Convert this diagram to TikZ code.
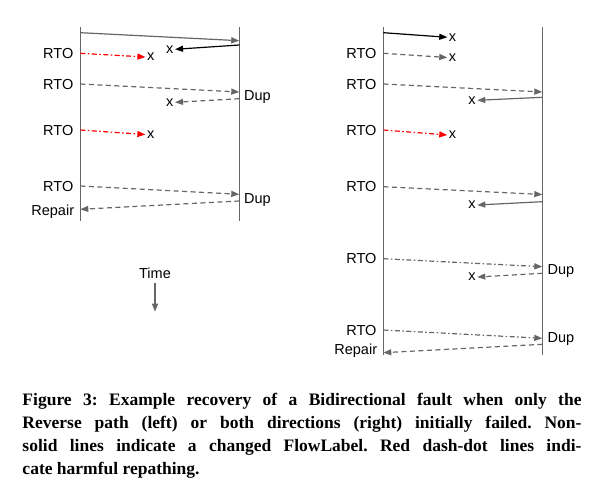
\documentclass[tikz,border=0pt]{standalone}
\usepackage{fontspec}
\setmainfont{Liberation Serif}
\newfontfamily\diagfont{Liberation Sans}
\usetikzlibrary{arrows.meta}
\definecolor{lg}{HTML}{666666}
\definecolor{rd}{HTML}{FF0000}
\frenchspacing
\begin{document}
\begin{tikzpicture}[x=1bp,y=-1bp,
  lbl/.style={font=\diagfont\fontsize{14.5bp}{16bp}\selectfont, inner sep=0pt, text height=10.4bp, text depth=0pt},
  xl/.style={font=\diagfont\fontsize{14.5bp}{16bp}\selectfont, inner xsep=1.5bp, inner ysep=0pt, text height=7.5bp, text depth=0pt},
  vline/.style={draw=lg, line width=1.3bp},
  msg/.style={draw=lg, line width=1.2bp, -{Triangle[length=8bp,width=6bp]}},
  blk/.style={msg, draw=black},
  dsh/.style={msg, dash pattern=on 5bp off 3.5bp},
  dd/.style={msg, dash pattern=on 5bp off 2.5bp on 1.5bp off 2.5bp},
  rdd/.style={dd, draw=rd},
  capline/.style={anchor=base west, inner sep=0pt, font=\bfseries\fontsize{17.5bp}{23bp}\selectfont}
]
\useasboundingbox (0,0) rectangle (599,491);

% ---------------- left diagram ----------------
\coordinate (L1t) at (80.3,27); \coordinate (L1b) at (80.3,221);
\coordinate (L2t) at (239.3,27); \coordinate (L2b) at (239.3,221);
\draw[vline] (L1t) -- (L1b);
\draw[vline] (L2t) -- (L2b);

\coordinate (la1) at (80.3,32.7); \coordinate (la1e) at (239.3,40.7);
\draw[msg] (la1) -- (la1e);
\coordinate (la2) at (239.3,45);
\node[xl] (lx1) at (169.7,49.3) {x};
\draw[blk] (la2) -- (lx1.east);

\node[lbl, anchor=east] (lr1) at (73.5,53.3) {RTO};
\node[xl] (lx2) at (150.7,57) {x};
\draw[rdd] (lr1.east -| L1t) -- (lx2.west);

\node[lbl, anchor=east] (lr2) at (73.5,84) {RTO};
\coordinate (lb2e) at (239.3,92);
\draw[dsh] (lr2.east -| L1t) -- (lb2e);
\node[lbl, anchor=west] (ld1) at (244,95.3) {Dup};
\coordinate (lc2) at (239.3,98.7);
\node[xl] (lx3) at (169.7,102.3) {x};
\draw[dsh] (lc2) -- (lx3.east);

\node[lbl, anchor=east] (lr3) at (73.5,130) {RTO};
\node[xl] (lx4) at (150.7,134.5) {x};
\draw[rdd] (lr3.east -| L1t) -- (lx4.west);

\node[lbl, anchor=east] (lr4) at (73.5,186) {RTO};
\coordinate (lb4e) at (239.3,194.3);
\draw[dsh] (lr4.east -| L1t) -- (lb4e);
\node[lbl, anchor=west] (ld2) at (244,198.3) {Dup};
\coordinate (lc4) at (239.3,201);
\coordinate (lc4e) at (80.3,209.3);
\draw[dsh] (lc4) -- (lc4e);
\node[lbl, anchor=east] (lrep) at (74.3,210.5) {Repair};

\node[lbl] (time) at (155,273.3) {Time};
\coordinate (tend) at (155,311.7);
\draw[msg] (time.south) ++(0,4.5) -- (tend);

% ---------------- right diagram ----------------
\coordinate (R1t) at (383.3,27); \coordinate (R1b) at (383.3,355);
\coordinate (R2t) at (542.3,27); \coordinate (R2b) at (542.3,355);
\draw[vline] (R1t) -- (R1b);
\draw[vline] (R2t) -- (R2b);

\coordinate (ra1) at (383.3,32.7);
\node[xl] (rx1) at (452.6,37.3) {x};
\draw[blk] (ra1) -- (rx1.west);

\node[lbl, anchor=east] (rr1) at (376.7,53.3) {RTO};
\node[xl] (rx2) at (452.6,57.5) {x};
\draw[dsh] (rr1.east -| R1t) -- (rx2.west);

\node[lbl, anchor=east] (rr2) at (376.7,84) {RTO};
\coordinate (rb2e) at (542.3,92);
\draw[dsh] (rr2.east -| R1t) -- (rb2e);
\coordinate (rc2) at (542.3,97.3);
\node[xl] (rx3) at (472,100.3) {x};
\draw[msg] (rc2) -- (rx3.east);

\node[lbl, anchor=east] (rr3) at (376.7,130) {RTO};
\node[xl] (rx4) at (452.6,135) {x};
\draw[rdd] (rr3.east -| R1t) -- (rx4.west);

\node[lbl, anchor=east] (rr4) at (376.7,186.7) {RTO};
\coordinate (rb4e) at (542.3,194.5);
\draw[dsh] (rr4.east -| R1t) -- (rb4e);
\coordinate (rc4) at (542.3,201.7);
\node[xl] (rx5) at (472,205) {x};
\draw[msg] (rc4) -- (rx5.east);

\node[lbl, anchor=east] (rr5) at (376.7,258.7) {RTO};
\coordinate (rb5e) at (542.3,266.7);
\draw[dd] (rr5.east -| R1t) -- (rb5e);
\node[lbl, anchor=west] (rd1) at (547.5,269) {Dup};
\coordinate (rc5) at (542.3,273.3);
\node[xl] (rx6) at (472,277) {x};
\draw[dsh] (rc5) -- (rx6.east);

\node[lbl, anchor=east] (rr6) at (376.7,330) {RTO};
\coordinate (rb6e) at (542.3,338.3);
\draw[dd] (rr6.east -| R1t) -- (rb6e);
\node[lbl, anchor=west] (rd2) at (547.5,337) {Dup};
\coordinate (rc6) at (542.3,344.3);
\coordinate (rc6e) at (383.3,352.7);
\draw[dsh] (rc6) -- (rc6e);
\node[lbl, anchor=east] (rrep) at (377.3,349.5) {Repair};

% ---------------- caption ----------------
\node[capline] (c1) at (22.3,405) {\makebox[559bp][s]{Figure 3: Example recovery of a Bidirectional fault when only the}};
\node[capline] (c2) at (22.3,428.2) {\makebox[559bp][s]{Reverse path (left) or both directions (right) initially failed. Non-}};
\node[capline] (c3) at (22.3,451.4) {\makebox[559bp][s]{solid lines indicate a changed FlowLabel. Red dash-dot lines indi-}};
\node[capline] (c4) at (22.3,474.6) {cate harmful repathing.};
\end{tikzpicture}
\end{document}
